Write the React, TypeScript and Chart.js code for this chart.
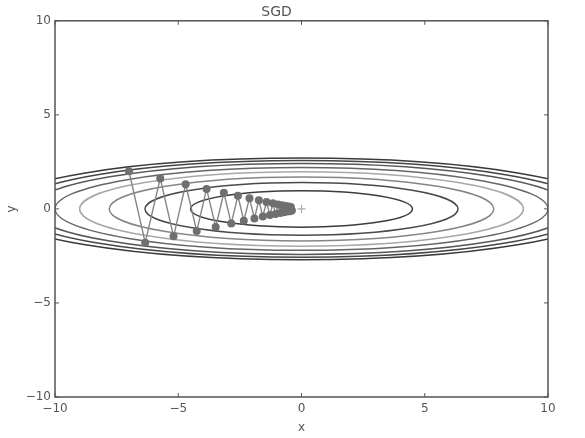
import React, { useEffect, useRef } from "react";
import { Chart, registerables } from "chart.js";

Chart.register(...registerables);

// SGD path
const pathX = [-7, -6.34, -5.73, -5.19, -4.7, -4.25, -3.85, -3.48, -3.15, -2.85, -2.58, -2.34, -2.11, -1.91, -1.73, -1.57, -1.42, -1.28, -1.16, -1.05, -0.95, -0.86, -0.78, -0.71, -0.64, -0.58, -0.52, -0.47, -0.43, -0.39];
const pathY = [2, -1.8, 1.62, -1.46, 1.31, -1.18, 1.06, -0.96, 0.86, -0.78, 0.7, -0.63, 0.57, -0.51, 0.46, -0.41, 0.37, -0.33, 0.3, -0.27, 0.24, -0.22, 0.2, -0.18, 0.16, -0.14, 0.13, -0.12, 0.1, -0.09];

// contour ellipses (semi-axes), centred on the minimum
const contourRx = [4.5, 6.35, 7.8, 9.0, 10.0, 11.0, 11.7, 12.4];
const contourRy = [0.97, 1.4, 1.7, 1.98, 2.2, 2.42, 2.57, 2.7];
const contourColors = ["#3c3c3c", "#4a4a4a", "#858585", "#a8a8a8", "#666666", "#575757", "#454545", "#3a3a3a"];

const minimumX = [0];
const minimumY = [0];
const tickValues = [-10, -5, 0, 5, 10];

const fmt = (v: number) => (v < 0 ? "\u2212" + Math.abs(v) : String(v));

const framePlugin = {
  id: "contoursAndFrame",
  beforeDatasetsDraw(chart: any) {
    const { ctx, chartArea, scales } = chart;
    const x = scales.x;
    const y = scales.y;
    ctx.save();
    ctx.beginPath();
    ctx.rect(chartArea.left, chartArea.top, chartArea.right - chartArea.left, chartArea.bottom - chartArea.top);
    ctx.clip();
    const cx = x.getPixelForValue(0);
    const cy = y.getPixelForValue(0);
    contourRx.forEach((rx, i) => {
      const px = x.getPixelForValue(rx) - cx;
      const py = cy - y.getPixelForValue(contourRy[i]);
      ctx.beginPath();
      ctx.ellipse(cx, cy, px, py, 0, 0, Math.PI * 2);
      ctx.strokeStyle = contourColors[i];
      ctx.lineWidth = 1.5;
      ctx.stroke();
    });
    ctx.restore();
  },
  afterDraw(chart: any) {
    const { ctx, chartArea, scales } = chart;
    const x = scales.x;
    const y = scales.y;
    ctx.save();
    ctx.strokeStyle = "#555555";
    ctx.lineWidth = 1.5;
    ctx.strokeRect(chartArea.left, chartArea.top, chartArea.right - chartArea.left, chartArea.bottom - chartArea.top);
    ctx.lineWidth = 1;
    const tl = 4;
    tickValues.forEach((v) => {
      const px = x.getPixelForValue(v);
      const py = y.getPixelForValue(v);
      ctx.beginPath();
      ctx.moveTo(px, chartArea.bottom);
      ctx.lineTo(px, chartArea.bottom - tl);
      ctx.moveTo(px, chartArea.top);
      ctx.lineTo(px, chartArea.top + tl);
      ctx.moveTo(chartArea.left, py);
      ctx.lineTo(chartArea.left + tl, py);
      ctx.moveTo(chartArea.right, py);
      ctx.lineTo(chartArea.right - tl, py);
      ctx.stroke();
    });
    ctx.restore();
  },
};

export default function App() {
  const ref = useRef<HTMLCanvasElement | null>(null);
  useEffect(() => {
    if (!ref.current) return;
    const font = { family: "'DejaVu Sans', sans-serif", size: 12 };
    const chart = new Chart(ref.current, {
      type: "scatter",
      data: {
        datasets: [
          {
            label: "SGD",
            data: pathX.map((v, i) => ({ x: v, y: pathY[i] })),
            showLine: true,
            borderColor: "#858585",
            borderWidth: 1.4,
            pointRadius: 4,
            pointBackgroundColor: "#6f6f6f",
            pointBorderColor: "#6f6f6f",
            pointBorderWidth: 0,
          },
          {
            label: "min",
            data: minimumX.map((v, i) => ({ x: v, y: minimumY[i] })),
            pointStyle: "cross",
            pointRadius: 4,
            borderColor: "#aaaaaa",
            borderWidth: 1.2,
          },
        ],
      },
      options: {
        animation: false,
        responsive: false,
        devicePixelRatio: 1,
        layout: { padding: { left: 5, right: 37, top: 0, bottom: 3 } },
        plugins: {
          legend: { display: false },
          tooltip: { enabled: false },
          title: {
            display: true,
            text: "SGD",
            color: "#555555",
            font: { family: "'DejaVu Sans', sans-serif", size: 14, weight: "normal" },
            padding: { top: 4, bottom: 0 },
          },
        },
        scales: {
          x: {
            type: "linear",
            min: -10,
            max: 10,
            afterBuildTicks: (s: any) => {
              s.ticks = tickValues.map((v) => ({ value: v }));
            },
            ticks: { callback: (v: any) => fmt(Number(v)), color: "#555555", font, padding: 5, maxRotation: 0 },
            grid: { display: false, drawTicks: false },
            border: { display: false },
            title: { display: true, text: "x", color: "#555555", font, padding: 0 },
            afterFit: (s: any) => {
              s.height = 38;
            },
          },
          y: {
            type: "linear",
            min: -10,
            max: 10,
            afterBuildTicks: (s: any) => {
              s.ticks = tickValues.map((v) => ({ value: v }));
            },
            ticks: { callback: (v: any) => fmt(Number(v)), color: "#555555", font, padding: 4 },
            grid: { display: false, drawTicks: false },
            border: { display: false },
            title: { display: true, text: "y", color: "#555555", font, padding: 0 },
            afterFit: (s: any) => {
              s.width = 50;
            },
          },
        },
      },
      plugins: [framePlugin],
    });
    return () => chart.destroy();
  }, []);
  return (
    <div style={{ position: "absolute", left: 0, top: 0, width: 585, height: 438, background: "#ffffff" }}>
      <canvas ref={ref} width={585} height={438} />
    </div>
  );
}
